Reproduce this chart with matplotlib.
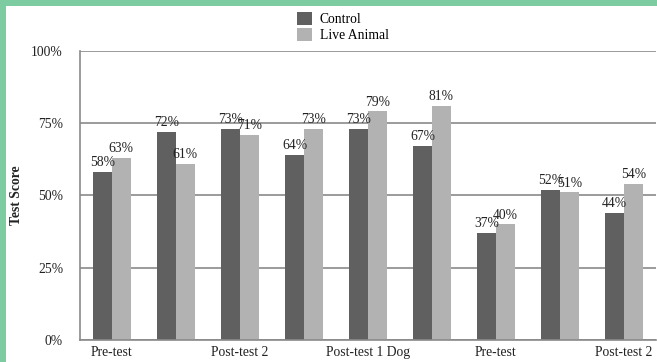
import matplotlib
matplotlib.use("Agg")
import matplotlib.pyplot as plt
import numpy as np
from matplotlib.patches import Rectangle

# Test groups along the x axis (only alternate labels are printed)
tick_labels = ["Pre-test", "", "Post-test 2", "", "Post-test 1 Dog", "",
               "Pre-test", "", "Post-test 2"]
control = [58, 72, 73, 64, 73, 67, 37, 52, 44]
live_animal = [63, 61, 71, 73, 79, 81, 40, 51, 54]
series_names = ["Control", "Live Animal"]
y_ticks = [0, 25, 50, 75, 100]

dark = "#606060"
light = "#b2b2b2"
grid_col = "#8a8a8a"
border = "#7dcba0"

plt.rcParams["font.family"] = ["Liberation Serif", "DejaVu Serif"]
fs = 9.8

fig = plt.figure(figsize=(6.57, 3.62), dpi=100)
fig.patch.set_facecolor("white")

# green frame strips along the top and left edges
fig.add_artist(Rectangle((0, 1 - 6 / 362), 1, 6 / 362, transform=fig.transFigure,
                         facecolor=border, edgecolor="none", zorder=0))
fig.add_artist(Rectangle((0, 0), 6 / 657, 1, transform=fig.transFigure,
                         facecolor=border, edgecolor="none", zorder=0))

ax = fig.add_axes([80 / 657, 1 - 340 / 362, (656 - 80) / 657, (340 - 50.7) / 362])

x = np.arange(len(control))
w = 0.29
b1 = ax.bar(x - w / 2, control, w, color=dark, label=series_names[0], zorder=2)
b2 = ax.bar(x + w / 2, live_animal, w, color=light, label=series_names[1], zorder=2)

for bars, vals in ((b1, control), (b2, live_animal)):
    for r, v in zip(bars, vals):
        ax.annotate(f"{v}%", (r.get_x() + r.get_width() / 2, v),
                    xytext=(0, 2), textcoords="offset points",
                    ha="center", va="bottom", fontsize=fs, color="#222222", zorder=3)

ax.set_xlim(-0.5, len(control) - 0.5)
ax.set_ylim(0, 100)
ax.set_yticks(y_ticks)
ax.set_yticklabels([f"{t}%" for t in y_ticks], fontsize=fs, color="#222222")
ax.set_xticks(x)
ax.set_xticklabels(tick_labels, fontsize=fs, color="#222222")
ax.tick_params(axis="both", length=0)
ax.tick_params(axis="y", pad=12.2)
ax.tick_params(axis="x", pad=4)

ax.yaxis.grid(True, color=grid_col, linewidth=1.2, zorder=1)
ax.set_axisbelow(True)
for s in ("top", "right"):
    ax.spines[s].set_visible(False)
for s in ("left", "bottom"):
    ax.spines[s].set_color(grid_col)
    ax.spines[s].set_linewidth(1.2)

ax.set_ylabel("Test Score", fontsize=fs, fontweight="bold", color="#222222")
ax.yaxis.set_label_coords(-(80 - 23) / 576, 0.5)

fig.legend(handles=[b1, b2], loc="upper left", bbox_to_anchor=(287 / 657, 1 - 2 / 362),
           frameon=False, fontsize=fs, handlelength=1.1, handleheight=1.1,
           handletextpad=0.6, labelspacing=0.15, borderpad=0.2)

fig.savefig("out.png", dpi=100, facecolor="white")
